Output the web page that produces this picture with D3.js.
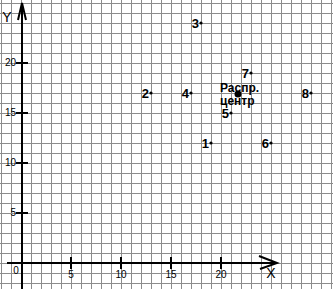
<!DOCTYPE html>
<html>
<head>
<meta charset="utf-8">
<script src="https://cdn.jsdelivr.net/npm/d3@7"></script>
<style>
  html, body { margin: 0; padding: 0; background: #fff; }
  svg { display: block; font-family: "Liberation Sans", Arial, sans-serif; }
</style>
</head>
<body>
<svg id="chart" width="333" height="289"></svg>
<script>
// ---- data ----
const pointLabels = ["1", "2", "3", "4", "5", "6", "7", "8"];
const pointX = [19, 13, 18, 17, 21, 25, 23, 29];
const pointY = [12, 17, 24, 17, 15, 12, 19, 17];
const centerLabel = ["Распр.", "центр"];
const centerX = [21.7];
const centerY = [16.9];
const xTicks = [5, 10, 15, 20];
const yTicks = [5, 10, 15, 20];
const xGrid = d3.range(-2, 32);
const yGrid = d3.range(-3, 27);

const W = 333, H = 289;
const svg = d3.select("#chart");
const x = d3.scaleLinear().domain([0, 30]).range([21, 321]);
const y = d3.scaleLinear().domain([0, 26]).range([263, 3]);

svg.append("rect").attr("width", W).attr("height", H).attr("fill", "#fff");

// grid
const grid = svg.append("g").attr("stroke", "#8c8c8c").attr("stroke-width", 1);
grid.selectAll("line.v").data(xGrid).join("line").attr("class", "v")
  .attr("x1", d => x(d) + 0.5).attr("x2", d => x(d) + 0.5)
  .attr("y1", 0).attr("y2", H);
grid.selectAll("line.h").data(yGrid).join("line").attr("class", "h")
  .attr("y1", d => y(d) + 0.5).attr("y2", d => y(d) + 0.5)
  .attr("x1", 0).attr("x2", W);

// axes lines with arrows
const ax = svg.append("g").attr("stroke", "#000").attr("stroke-width", 2).attr("fill", "none");
ax.append("line").attr("x1", 7).attr("x2", 277).attr("y1", y(0)).attr("y2", y(0));
ax.append("line").attr("x1", 22).attr("x2", 22).attr("y1", 3).attr("y2", H);
ax.append("path").attr("d", `M259,256 L277,${y(0)} L260,269`);
ax.append("path").attr("d", `M18,20 L22,3 L26,20`);

// x axis ticks
const gx = svg.append("g").attr("transform", `translate(0,${y(0)})`)
  .call(d3.axisBottom(x).tickValues(xTicks).tickSize(6).tickPadding(2).offset(0));
gx.select(".domain").remove();
gx.selectAll(".tick line").attr("y1", -6).attr("stroke", "#000").attr("stroke-width", 2);
gx.selectAll(".tick text").attr("font-size", 10).attr("font-family", "Liberation Sans, Arial, sans-serif").attr("fill", "#000");

// y axis ticks
const gy = svg.append("g").attr("transform", `translate(22,0)`)
  .call(d3.axisLeft(y).tickValues(yTicks).tickSize(6).tickPadding(0).offset(0));
gy.select(".domain").remove();
gy.selectAll(".tick line").attr("x1", 6).attr("stroke", "#000").attr("stroke-width", 2);
gy.selectAll(".tick text").attr("font-size", 10).attr("font-family", "Liberation Sans, Arial, sans-serif").attr("fill", "#000");

// origin label
svg.append("text").attr("x", 16).attr("y", 273.5).attr("text-anchor", "middle")
  .attr("font-size", 10).text("0");

// axis names
svg.append("text").attr("x", 7).attr("y", 22).attr("text-anchor", "middle")
  .attr("font-size", 14).text("Y");
svg.append("text").attr("x", 271).attr("y", 278).attr("text-anchor", "middle")
  .attr("font-size", 14).text("X");

// points
const pts = pointLabels.map((l, i) => ({ l, x: pointX[i], y: pointY[i] }));
const pg = svg.append("g");
pg.selectAll("circle").data(pts).join("circle")
  .attr("cx", d => x(d.x)).attr("cy", d => y(d.y)).attr("r", 1.6).attr("fill", "#000");
pg.selectAll("text").data(pts).join("text")
  .attr("x", d => x(d.x) - 2).attr("y", d => y(d.y) + 5)
  .attr("text-anchor", "end").attr("font-size", 13).attr("font-weight", "bold")
  .text(d => d.l);

// distribution center
const cx = x(centerX[0]), cy = y(centerY[0]);
svg.append("circle").attr("cx", cx).attr("cy", cy).attr("r", 3.5).attr("fill", "#000");
svg.append("text").attr("x", cx - 18).attr("y", cy - 2.5)
  .attr("font-size", 12).attr("font-weight", "bold").text(centerLabel[0]);
svg.append("text").attr("x", cx - 18).attr("y", cy + 10.5)
  .attr("font-size", 12).attr("font-weight", "bold").text(centerLabel[1]);
</script>
</body>
</html>
